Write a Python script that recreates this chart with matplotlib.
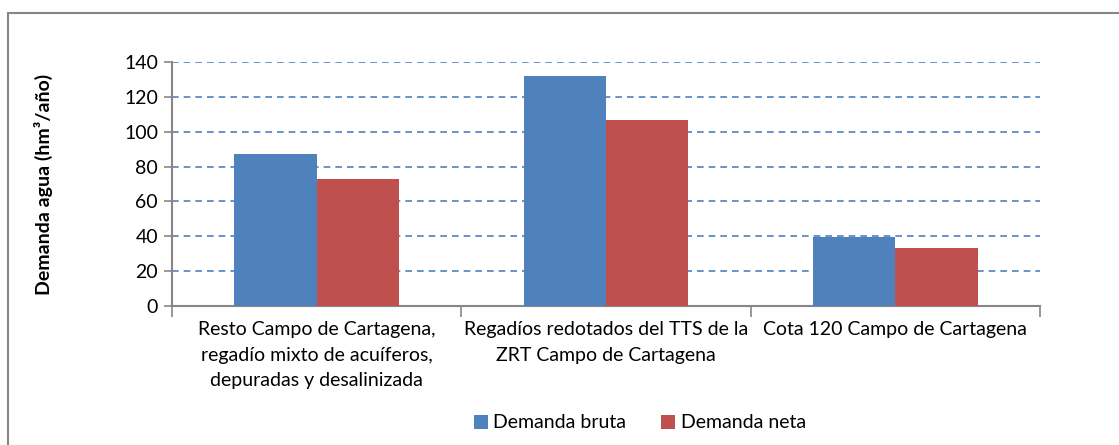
import numpy as np
import matplotlib
matplotlib.use("Agg")
import matplotlib.pyplot as plt
from matplotlib.patches import Rectangle

plt.rcParams['font.family'] = ['Lato', 'DejaVu Sans']

# datos
categorias = ["Resto Campo de Cartagena,\nregadío mixto de acuíferos,\ndepuradas y desalinizada",
              "Regadíos redotados del TTS de la\nZRT Campo de Cartagena",
              "Cota 120 Campo de Cartagena"]
demanda_bruta = [87, 132, 39.5]
demanda_neta = [73, 107, 33]
series = ["Demanda bruta", "Demanda neta"]
colores = ["#4F81BD", "#C0504D"]

fig = plt.figure(figsize=(11.19, 4.45), dpi=100)
ax = fig.add_axes([172 / 1119, 1 - 306 / 445, 868 / 1119, 244 / 445])

# marco exterior del gráfico
fig.patches.append(Rectangle((8 / 1119, -0.1), 1.2, 1 - 13 / 445 + 0.1,
                             transform=fig.transFigure, fill=False,
                             edgecolor="#868686", linewidth=1.5))

x = np.arange(len(categorias))
ancho = 0.285
ax.bar(x - ancho / 2, demanda_bruta, ancho, color=colores[0], label=series[0], zorder=3)
ax.bar(x + ancho / 2, demanda_neta, ancho, color=colores[1], label=series[1], zorder=3)

ax.set_xlim(-0.5, len(categorias) - 0.5)
ax.set_ylim(0, 140)
ax.set_yticks(np.arange(0, 141, 20))
ax.yaxis.grid(True, linestyle=(0, (4, 3)), color="#4F81BD", linewidth=1.2, zorder=0)
ax.set_axisbelow(True)

for s in ["top", "right"]:
    ax.spines[s].set_visible(False)
for s in ["left", "bottom"]:
    ax.spines[s].set_color("#868686")
    ax.spines[s].set_linewidth(1.5)

fs = 14
ax.tick_params(axis="y", length=6, color="#868686", width=1.2, labelsize=fs, pad=4)
ax.set_xticks(x)
ax.set_xticklabels(categorias, fontsize=fs, linespacing=1.6)
ax.tick_params(axis="x", length=0, pad=11)
ax.set_xticks(np.arange(-0.5, len(categorias)), minor=True)
ax.tick_params(axis="x", which="minor", length=8, color="#868686", width=1.2)

ax.set_ylabel("Demanda agua (hm³/año)", fontsize=fs, fontweight="bold")
ax.yaxis.set_label_coords((53 - 172) / 868, 0.5)

fig.legend(loc="center", bbox_to_anchor=(640 / 1119, 1 - 423 / 445), ncol=2,
           frameon=False, fontsize=fs, handlelength=0.7, handleheight=0.7,
           handletextpad=0.3, columnspacing=1.8)

fig.savefig("out.png", dpi=100)
